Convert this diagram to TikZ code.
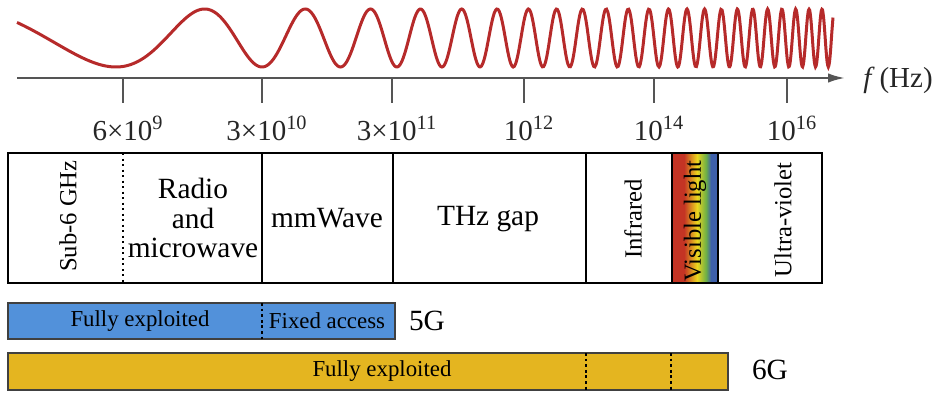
\documentclass[tikz,border=0pt]{standalone}
\usepackage{fontspec}
\setmainfont{Liberation Serif}
\usetikzlibrary{arrows.meta}

\definecolor{waveRed}{RGB}{182,42,42}
\definecolor{axisGray}{RGB}{85,85,85}
\definecolor{barBlue}{RGB}{82,145,218}
\definecolor{barGold}{RGB}{228,181,32}
\definecolor{visRed}{RGB}{196,52,36}
\definecolor{visYellow}{RGB}{236,214,30}
\definecolor{visGreen}{RGB}{110,176,70}
\definecolor{visBlue}{RGB}{62,96,170}

\begin{document}
\begin{tikzpicture}[x=0.2mm, y=-0.2mm,
    declare function={ph(\t)=0.29934*\t+0.00732*\t^2+0.038255*\t^3-0.34;},
    band/.style={font=\fontsize{16.7}{16.8}\selectfont, align=center},
    sideband/.style={font=\fontsize{14}{16}\selectfont, rotate=90},
    barlabel/.style={font=\fontsize{13}{15}\selectfont},
    ticklabel/.style={font=\fontsize{16.5}{18}\selectfont, text=black!85}]
            \useasboundingbox (0,0) rectangle (939,412);

            % Wave
            \draw[waveRed, line width=0.6mm, smooth]
                plot[domain=17:833, samples=700] (\x, {38+29*cos(360*ph((\x-17)/100))});

            % Frequency axis
            \coordinate (axisStart) at (17,78);
            \coordinate (axisEnd) at (845,78);
            \draw[axisGray, line width=0.45mm, -{Latex[length=3.4mm, width=1.9mm]}] (axisStart) -- (axisEnd);
            \node[ticklabel] (fLabel) at (898,80) {\textit{f}\,(Hz)};

            % Ticks
            \foreach \x/\lab [count=\i] in {123/6×10\textsuperscript{9}, 262/3×10\textsuperscript{10},
                    392/3×10\textsuperscript{11}, 524/10\textsuperscript{12},
                    654/10\textsuperscript{14}, 787/10\textsuperscript{16}} {
                \draw[axisGray, line width=0.45mm] (\x,78) -- (\x,103);
                \node[ticklabel] (tick\i) at (\x+5,128) {\lab};
            }

            % Visible light
            \fill[visRed] (672,153) rectangle (684,283);
            \shade[left color=visRed, right color=visYellow] (684,153) rectangle (697,283);
            \shade[left color=visYellow, right color=visGreen] (697,153) rectangle (706,283);
            \shade[left color=visGreen, right color=visBlue] (706,153) rectangle (711,283);
            \fill[visBlue] (711,153) rectangle (718,283);

            % Bands
            \draw[line width=0.35mm] (8,153) rectangle (822,283);
            \draw[line width=0.4mm, dotted] (123,153) -- (123,283);
            \foreach \x in {262,393,586,672,718} {
                \draw[line width=0.4mm] (\x,153) -- (\x,283);
            }

            % Band labels
            \node[sideband] (sub6) at (68,216) {Sub-6 GHz};
            \node[band] (radio) at (193,218) {Radio\\and\\microwave};
            \node[band] (mmwave) at (327,218) {mmWave};
            \node[band] (thz) at (488,219) {THz gap};
            \node[sideband] (infrared) at (633,219) {Infrared};
            \node[sideband] (visible) at (695,221) {Visible light};
            \node[sideband] (uv) at (783,220) {Ultra-violet};

            % 5G
            \filldraw[fill=barBlue, draw=black!75, line width=0.3mm] (8,303) rectangle (395,339);
            \draw[line width=0.4mm, dash pattern=on 1.6pt off 1.6pt] (262,303) -- (262,339);
            \node[barlabel] (full5) at (140,321) {Fully exploited};
            \node[barlabel] (fixed5) at (327,321) {Fixed access};
            \node[band] (g5) at (427,321) {5G};

            % 6G
            \filldraw[fill=barGold, draw=black!75, line width=0.3mm] (8,353) rectangle (728,390);
            \foreach \x in {586,671} {
                \draw[line width=0.45mm, dash pattern=on 1.6pt off 1.6pt] (\x,353) -- (\x,390);
            }
            \node[barlabel] (full6) at (382,371) {Fully exploited};
            \node[band] (g6) at (770,370) {6G};

        \end{tikzpicture}
\end{document}
